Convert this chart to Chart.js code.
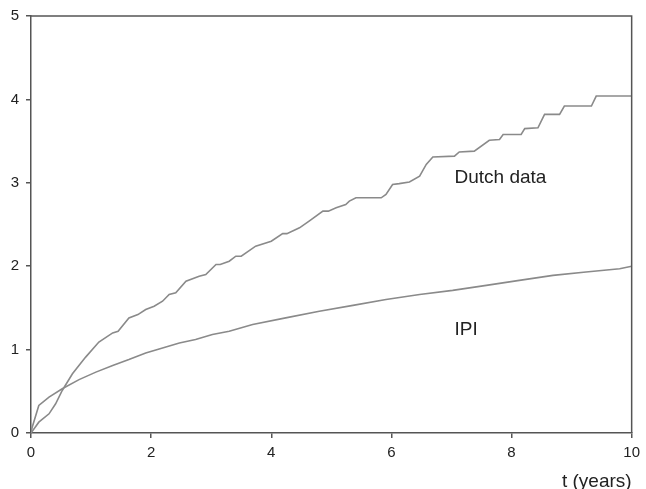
<!DOCTYPE html>
<html>
<head>
<meta charset="utf-8">
<script src="https://cdn.jsdelivr.net/npm/chart.js@4.4.0/dist/chart.umd.min.js"></script>
<style>
  body { margin: 0; background: #fff; }
  #wrap { width: 646px; height: 489px; }
</style>
</head>
<body>
<div id="wrap"><canvas id="js-chart"></canvas></div>
<script>
// data
const dutchT = [0, 0.13, 0.3, 0.41, 0.52, 0.69, 0.91, 1.13, 1.36, 1.45, 1.63, 1.78, 1.91, 2.05, 2.19, 2.3, 2.41, 2.58, 2.8, 2.91, 3.08, 3.15, 3.3, 3.41, 3.5, 3.74, 4.0, 4.19, 4.26, 4.47, 4.63, 4.86, 4.95, 5.08, 5.24, 5.3, 5.41, 5.83, 5.91, 6.02, 6.13, 6.3, 6.47, 6.58, 6.69, 7.05, 7.13, 7.38, 7.63, 7.8, 7.86, 8.16, 8.22, 8.44, 8.55, 8.8, 8.88, 9.33, 9.41, 10];
const dutchY = [0, 0.13, 0.23, 0.35, 0.51, 0.71, 0.91, 1.09, 1.2, 1.22, 1.38, 1.42, 1.48, 1.52, 1.58, 1.66, 1.68, 1.82, 1.88, 1.9, 2.02, 2.02, 2.06, 2.12, 2.12, 2.24, 2.3, 2.39, 2.39, 2.46, 2.54, 2.66, 2.66, 2.7, 2.74, 2.78, 2.82, 2.82, 2.86, 2.98, 2.99, 3.01, 3.08, 3.22, 3.31, 3.32, 3.37, 3.38, 3.51, 3.52, 3.58, 3.58, 3.65, 3.66, 3.82, 3.82, 3.92, 3.92, 4.04, 4.04];

const ipiT = [0, 0.02, 0.13, 0.3, 0.52, 0.8, 1.08, 1.36, 1.63, 1.91, 2.19, 2.47, 2.74, 3.02, 3.3, 3.69, 4.24, 4.8, 5.36, 5.91, 6.47, 7.02, 7.58, 8.13, 8.69, 9.24, 9.8, 10];
const ipiY = [0, 0.07, 0.33, 0.43, 0.53, 0.64, 0.73, 0.81, 0.88, 0.96, 1.02, 1.08, 1.12, 1.18, 1.22, 1.3, 1.38, 1.46, 1.53, 1.6, 1.66, 1.71, 1.77, 1.83, 1.89, 1.93, 1.97, 2.0];

const xTicks = [0, 2, 4, 6, 8, 10];
const yTicks = [0, 1, 2, 3, 4, 5];
const seriesNames = ['Dutch data', 'IPI'];
const xTitle = 't (years)';

const FONT = "'Liberation Sans', Arial, sans-serif";
const AXIS = '#555';
const LINE = '#8a8a8a';

function toPoints(ts, ys) {
  return ts.map((t, i) => ({ x: t, y: ys[i] }));
}

// series names written next to the curves
const curveLabels = {
  id: 'curveLabels',
  afterDatasetsDraw(chart) {
    const { ctx, scales: { x, y } } = chart;
    ctx.save();
    ctx.fillStyle = '#222';
    ctx.font = '19px ' + FONT;
    ctx.textAlign = 'left';
    ctx.textBaseline = 'middle';
    ctx.fillText(seriesNames[0], x.getPixelForValue(7.05), y.getPixelForValue(3.06));
    ctx.fillText(seriesNames[1], x.getPixelForValue(7.05), y.getPixelForValue(1.24));
    ctx.restore();
  }
};

// top and right edges of the frame
const frame = {
  id: 'frame',
  afterDraw(chart) {
    const { ctx, chartArea: { top, right, bottom, left } } = chart;
    ctx.save();
    ctx.strokeStyle = AXIS;
    ctx.lineWidth = 1.5;
    ctx.beginPath();
    ctx.moveTo(left, top);
    ctx.lineTo(right, top);
    ctx.lineTo(right, bottom);
    ctx.stroke();
    ctx.restore();
  }
};

const ctx = document.getElementById('js-chart').getContext('2d');

new Chart(ctx, {
  type: 'line',
  data: {
    datasets: [
      { label: seriesNames[0], data: toPoints(dutchT, dutchY) },
      { label: seriesNames[1], data: toPoints(ipiT, ipiY) }
    ]
  },
  options: {
    responsive: true,
    maintainAspectRatio: false,
    animation: false,
    layout: { padding: { top: 16, right: 14, left: 0, bottom: 0 } },
    elements: {
      point: { radius: 0 },
      line: { borderColor: LINE, borderWidth: 1.6, tension: 0, fill: false }
    },
    plugins: {
      legend: { display: false },
      tooltip: { enabled: false }
    },
    scales: {
      x: {
        type: 'linear',
        min: 0,
        max: 10,
        afterFit: s => { s.height = 56; },
        afterBuildTicks: s => { s.ticks = xTicks.map(v => ({ value: v })); },
        grid: { drawOnChartArea: false, drawTicks: true, tickLength: 5, color: AXIS, lineWidth: 1.5 },
        border: { display: true, color: AXIS, width: 1.5 },
        ticks: { color: '#222', font: { family: FONT, size: 15 }, padding: 6, maxRotation: 0 },
        title: {
          display: true,
          text: xTitle,
          align: 'end',
          color: '#222',
          font: { family: FONT, size: 19, lineHeight: 1 },
          padding: { top: 0, bottom: -2 }
        }
      },
      y: {
        type: 'linear',
        min: 0,
        max: 5,
        afterFit: s => { s.width = 31; },
        afterBuildTicks: s => { s.ticks = yTicks.map(v => ({ value: v })); },
        grid: { drawOnChartArea: false, drawTicks: true, tickLength: 5, color: AXIS, lineWidth: 1.5 },
        border: { display: true, color: AXIS, width: 1.5 },
        ticks: { color: '#222', font: { family: FONT, size: 15 }, padding: 7 }
      }
    }
  },
  plugins: [curveLabels, frame]
});
</script>
</body>
</html>
